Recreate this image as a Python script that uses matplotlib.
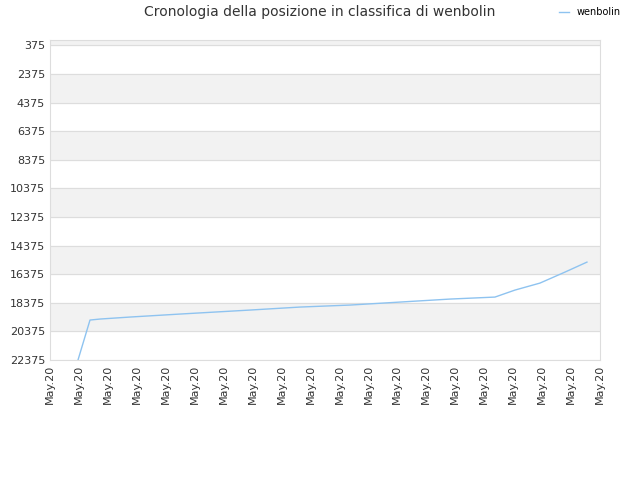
import matplotlib
matplotlib.use("Agg")
import matplotlib.pyplot as plt
import numpy as np

xlabels = ["May.20"] * 20
xpix = [75, 78, 90, 100, 130, 180, 250, 300, 350, 400, 450, 495, 515, 540, 565, 587]
ypix = [380, 360, 320, 319, 317, 314, 310, 307, 305, 302, 299, 297, 290, 283, 272, 262]
x = [(p - 50) / 28.95 for p in xpix]
y = [375 + (p - 45) / 315 * 22000 for p in ypix]
yticks = list(range(375, 22376, 2000))

fig = plt.figure(figsize=(6.4, 4.8), dpi=100)
ax = fig.add_axes([50/640, 1-360/480, 550/640, 320/480])
ax.set_ylim(22375, 0)
ax.set_xlim(0, 19)
for i in range(len(yticks) - 1):
    if i % 2 == 1:
        ax.axhspan(yticks[i], yticks[i+1], color="#f2f2f2", zorder=0)
ax.axhspan(0, 375, color="#f2f2f2", zorder=0)
ax.set_yticks(yticks)
ax.set_yticklabels([str(v) for v in yticks], fontsize=8, color="#333333")
ax.set_xticks(range(20) if False else np.arange(0, 19.01, 1))
ax.set_xticklabels(xlabels[:20], rotation=90, fontsize=8, color="#333333")
ax.grid(axis="y", color="#dddddd", lw=0.8)
ax.plot(x, y, color="#8ec3f0", lw=1, label="wenbolin")
for s in ax.spines.values():
    s.set_color("#dddddd")
ax.tick_params(length=0)
fig.text(0.5, 1-12/480, "Cronologia della posizione in classifica di wenbolin",
         ha="center", va="center", fontsize=10, color="#333333")
ax.legend(loc="center", bbox_to_anchor=(590/640, 1-12/480), bbox_transform=fig.transFigure,
          frameon=False, fontsize=7, handlelength=1)
fig.savefig("out.png", dpi=100)
